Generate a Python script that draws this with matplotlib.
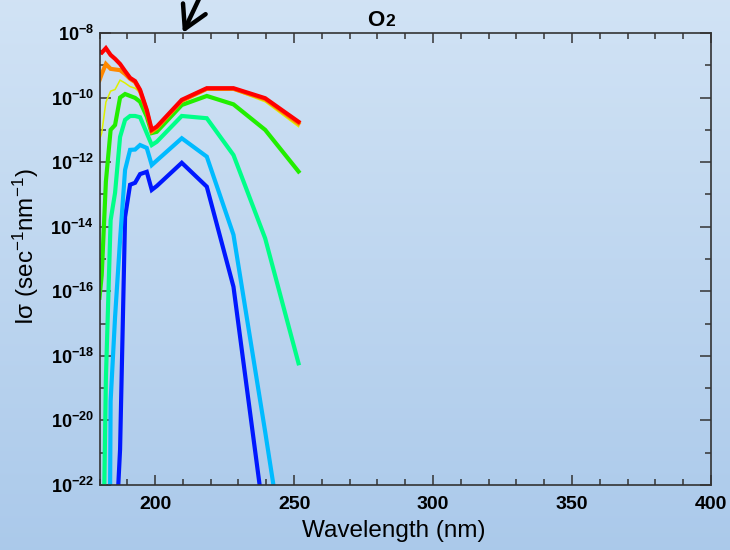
import numpy as np
import matplotlib
matplotlib.use('Agg')
import matplotlib.pyplot as plt
from matplotlib.ticker import FixedLocator, FixedFormatter, MultipleLocator

plt.rcParams['font.family'] = ['Liberation Sans', 'DejaVu Sans']
plt.rcParams['mathtext.fontset'] = 'custom'
plt.rcParams['mathtext.rm'] = 'Liberation Sans'
plt.rcParams['mathtext.bf'] = 'Liberation Sans:bold'
plt.rcParams['mathtext.it'] = 'Liberation Sans:italic'

nan = np.nan

# длины волн (нм)
wl = [180.0, 180.8, 182.3, 184.0, 185.6, 187.4, 189.2, 191.0, 192.8, 194.6,
      197.0, 198.8, 200.6, 209.6, 218.6, 228.2, 239.6, 251.6]

# log10(I*sigma) для каждой кривой
red_log = [-8.58, -8.61, -8.47, -8.68, -8.80, -8.96, -9.18, -9.39, -9.49, -9.76,
           -10.38, -11.0, -10.9, -10.07, -9.71, -9.71, -10.02, -10.75]
orange_log = [-9.46, -9.27, -8.96, -9.11, -9.13, -9.15, -9.27, -9.42, -9.52, -9.80,
              -10.42, -11.05, -10.94, -10.10, -9.73, -9.73, -10.05, -10.80]
yellow_log = [-11.31, -11.10, -10.14, -9.80, -9.75, -9.46, -9.55, -9.66, -9.71, -9.85,
              -10.45, -11.10, -10.97, -10.14, -9.76, -9.76, -10.13, -10.90]
green_log = [-16.2, -15.5, -12.6, -11.0, -10.85, -10.0, -9.89, -9.95, -10.01, -10.13,
             -10.59, -11.10, -11.06, -10.23, -9.95, -10.21, -11.0, -12.29]
spring_log = [nan, -27.5, -18.7, -13.8, -12.95, -11.22, -10.69, -10.57, -10.57, -10.61,
              -11.1, -11.47, -11.37, -10.57, -10.64, -11.78, -14.36, -18.23]
sky_log = [nan, nan, -44.0, -19.4, -16.8, -14.4, -12.24, -11.62, -11.61, -11.47,
           -11.56, -12.09, -11.95, -11.26, -11.83, -14.25, -20.35, -27.0]
blue_log = [nan, nan, nan, nan, -24.0, -20.9, -13.7, -12.7, -12.64, -12.37,
            -12.3, -12.86, -12.74, -12.02, -12.76, -15.86, -23.3, -30.0]

series = [
    (blue_log, '#0018ff', 3.0),
    (sky_log, '#00bbff', 3.0),
    (spring_log, '#00ff88', 3.0),
    (green_log, '#22ee00', 3.0),
    (yellow_log, '#ddf000', 1.1),
    (orange_log, '#ff8800', 3.0),
    (red_log, '#ff0000', 3.0),
]

fig = plt.figure(figsize=(7.3, 5.5), dpi=100)

# фон с градиентом
bg = fig.add_axes([0, 0, 1, 1], zorder=-1)
grad = np.linspace(0, 1, 256)[:, None]
top = np.array([0.82, 0.89, 0.96])
bot = np.array([0.67, 0.79, 0.92])
img = top[None, None, :] * (1 - grad[..., None]) + bot[None, None, :] * grad[..., None]
bg.imshow(img, aspect='auto', extent=[0, 1, 0, 1])
bg.axis('off')

ax = fig.add_axes([99.5 / 730, 65 / 550, 611.5 / 730, 452 / 550])
ax.set_facecolor('none')

for vals, col, lw in series:
    ax.plot(wl, 10.0 ** np.array(vals), color=col, lw=lw, solid_joinstyle='miter')

ax.set_yscale('log')
ax.set_xlim(180, 400)
ax.set_ylim(1e-22, 1e-8)

ax.xaxis.set_minor_locator(MultipleLocator(10))
ax.set_xticks([200, 250, 300, 350, 400])
ax.set_xticklabels(['200', '250', '300', '350', '400'], fontweight='bold', fontsize=14)

ymaj = [10.0 ** e for e in range(-22, -7, 2)]
ymin = [10.0 ** e for e in range(-21, -8, 2)]
ax.yaxis.set_major_locator(FixedLocator(ymaj))
ax.yaxis.set_minor_locator(FixedLocator(ymin))
ax.yaxis.set_major_formatter(FixedFormatter([r'$\mathbf{10^{%d}}$' % e for e in range(-22, -7, 2)]))
ax.yaxis.set_minor_formatter(FixedFormatter([''] * len(ymin)))
for t in ax.get_yticklabels():
    t.set_fontsize(13)

ax.tick_params(which='both', direction='in', top=True, right=True, color='#333333', width=1.1)
ax.tick_params(axis='x', which='major', length=7, pad=8)
ax.tick_params(axis='x', which='minor', length=4)
ax.tick_params(axis='y', which='major', length=8, pad=4)
ax.tick_params(axis='y', which='minor', length=4)
for s in ax.spines.values():
    s.set_color('#333333')
    s.set_linewidth(1.2)

ax.set_xlabel('Wavelength (nm)', fontsize=17.5)
ax.xaxis.set_label_coords(0.482, -0.078)
ax.set_ylabel('Iσ (sec$^{-1}$nm$^{-1}$)', fontsize=17.5)
ax.yaxis.set_label_coords(-0.096, 0.527)

# заголовок O2
fig.text(384 / 730, 1 - 26 / 550, 'O', fontsize=16, fontweight='bold', ha='right', va='baseline')
fig.text(385 / 730, 1 - 26 / 550, '2', fontsize=12.5, fontweight='bold', ha='left', va='baseline')

# стрелка на 210 нм
ax.annotate('', xy=(210, 1e-8), xycoords='data', xytext=(17, 36), textcoords='offset pixels',
            arrowprops=dict(arrowstyle='->,head_length=0.8,head_width=0.45', lw=3.2,
                            color='black', mutation_scale=20, shrinkA=0, shrinkB=0),
            annotation_clip=False)

fig.savefig('out.png', dpi=100)
